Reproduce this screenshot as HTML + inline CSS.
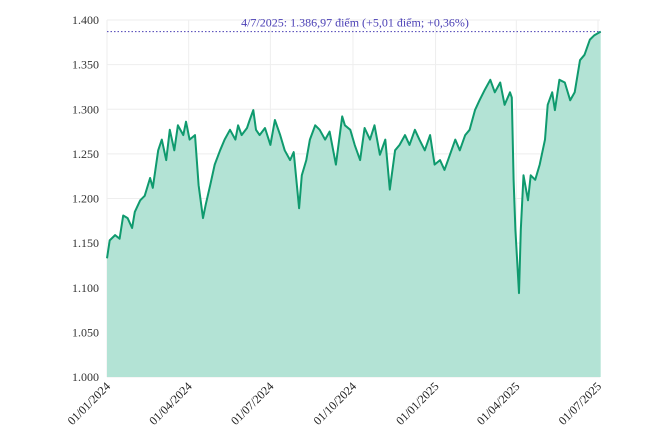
<!DOCTYPE html>
<html><head><meta charset="utf-8"><style>
body{margin:0;background:#fff}
svg{display:block;font-family:"Liberation Serif",serif}
</style></head><body>
<svg id="chart" width="665" height="443"></svg>
<script>
const days=[0,3,9,14,18,23,28,31,37,42,48,51,57,61,66,70,75,79,85,88,92,98,102,107,110,115,120,126,131,137,143,146,150,156,159,163,166,170,176,182,187,193,198,204,208,214,217,222,226,232,237,243,248,255,262,265,271,276,282,287,293,298,304,310,315,321,326,332,337,343,348,354,360,365,371,376,382,388,393,399,404,410,415,421,427,432,438,443,449,451,453,455,459,461,464,469,472,477,482,488,491,496,499,504,510,516,521,527,532,538,543,550];
const values=[1133,1153,1159,1155,1181,1178,1167,1185,1198,1203,1223,1212,1254,1266,1243,1277,1254,1282,1271,1286,1266,1271,1215,1178,1193,1215,1238,1254,1266,1277,1266,1282,1271,1279,1288,1299,1277,1271,1279,1260,1288,1271,1254,1243,1252,1189,1226,1243,1266,1282,1277,1266,1275,1238,1292,1282,1277,1260,1243,1279,1266,1282,1249,1266,1210,1254,1260,1271,1260,1277,1266,1254,1271,1238,1243,1232,1249,1266,1254,1271,1277,1299,1310,1322,1333,1319,1330,1305,1319,1313,1221,1165,1094,1165,1226,1198,1226,1221,1238,1266,1305,1319,1299,1333,1330,1310,1319,1355,1361,1378,1383,1386.97];
const yTicks=[1000,1050,1100,1150,1200,1250,1300,1350,1400];
const yTickLabels=["1.000","1.050","1.100","1.150","1.200","1.250","1.300","1.350","1.400"];
const xTickDays=[0,91,182,274,366,456,547];
const xTickLabels=["01/01/2024","01/04/2024","01/07/2024","01/10/2024","01/01/2025","01/04/2025","01/07/2025"];
const annotation="4/7/2025: 1.386,97 điểm (+5,01 điểm; +0,36%)";

const NS="http://www.w3.org/2000/svg",svg=document.getElementById('chart');
const L=107,R=598,T=20,B=377;
const x=d=>L+(d/547)*(R-L);
const y=v=>B-(v-1000)/400*(B-T);
function mk(t,a){const e=document.createElementNS(NS,t);for(const k in a)e.setAttribute(k,a[k]);svg.appendChild(e);return e;}
yTicks.forEach((v,i)=>{
 const g=mk('line',{x1:L,x2:R+2,y1:y(v),y2:y(v),stroke:'#eee','stroke-width':1});
 
 
 const t=mk('text',{x:L-8,y:y(v)+4,'text-anchor':'end','font-size':12,fill:'#333'});
 t.textContent=yTickLabels[i];
 
 
});
xTickDays.forEach((d,i)=>{
 const g=mk('line',{x1:x(d),x2:x(d),y1:T,y2:B,stroke:'#eee','stroke-width':1});
 
 
 const t=mk('text',{x:x(d)+4,y:B+10,'text-anchor':'end','font-size':12,fill:'#222',transform:`rotate(-45 ${x(d)+4} ${B+10})`});
 t.textContent=xTickLabels[i];
 
 
});
let pts=days.map((d,i)=>x(d).toFixed(1)+','+y(values[i]).toFixed(1));
const area=mk('path',{d:`M${x(days[0])},${B}L${pts.join('L')}L${x(days[days.length-1])},${B}Z`,fill:'#b3e3d5'});


const line=mk('path',{d:'M'+pts.join('L'),fill:'none',stroke:'#0f9a6e','stroke-width':2,'stroke-linejoin':'round'});


const lastV=values[values.length-1];
const ref=mk('line',{x1:L,x2:x(days[days.length-1]),y1:y(lastV),y2:y(lastV),stroke:'#4a3fb5','stroke-width':1,'stroke-dasharray':'1.5,2'});


const an=mk('text',{x:355,y:y(lastV)-5,'text-anchor':'middle','font-size':12,fill:'#4a3fb5'});
an.textContent=annotation;


</script>
</body></html>
